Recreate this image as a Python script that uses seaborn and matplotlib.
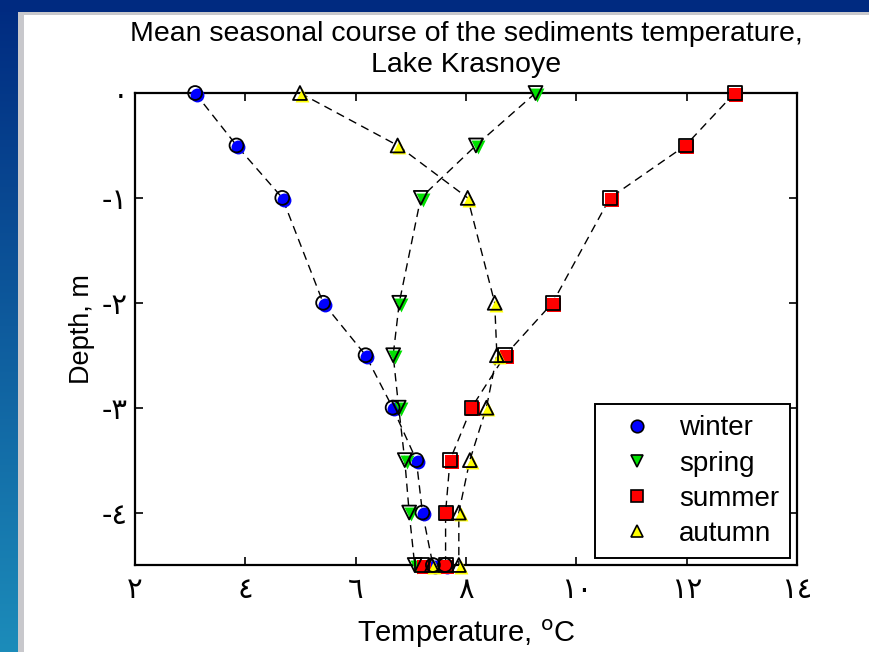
import numpy as np
import pandas as pd
import matplotlib
matplotlib.use("Agg")
import matplotlib.pyplot as plt
import matplotlib.transforms as mtransforms
from matplotlib.lines import Line2D
from matplotlib.patches import Rectangle
import seaborn as sns

# ---- data: depth (m) and mean temperature (degC) per season ----
depth = [0, -0.5, -1, -2, -2.5, -3, -3.5, -4, -4.5]
winter = [3.09, 3.84, 4.67, 5.41, 6.18, 6.67, 7.10, 7.21, 7.40]
spring = [9.26, 8.18, 7.18, 6.79, 6.68, 6.78, 6.89, 6.97, 7.07]
summer = [12.87, 11.98, 10.61, 9.57, 8.71, 8.10, 7.71, 7.63, 7.63]
autumn = [4.99, 6.76, 8.03, 8.52, 8.56, 8.37, 8.07, 7.87, 7.87]
# additional bottom readings at -4.5 m
extra_depth = -4.5
extra_temp = {"winter": 7.62, "summer": 7.20, "autumn": 7.38}

seasons = ["winter", "spring", "summer", "autumn"]
colors = {"winter": "#0000ff", "spring": "#00e000", "summer": "#ff0000", "autumn": "#ffff00"}
markers = {"winter": "o", "spring": "v", "summer": "s", "autumn": "^"}

xticks = [2, 4, 6, 8, 10, 12, 14]
xticklabels = ["٢", "٤", "٦", "٨", "١٠", "١٢", "١٤"]
yticks = [0, -1, -2, -3, -4]
yticklabels = ["٠", "-١", "-٢", "-٣", "-٤"]

rows = []
for name, vals in zip(seasons, [winter, spring, summer, autumn]):
    for i, (d, t) in enumerate(zip(depth, vals)):
        rows.append({"season": name, "depth": d, "temp": t, "order": i})
    if name in extra_temp:
        rows.append({"season": name, "depth": extra_depth, "temp": extra_temp[name], "order": len(depth)})
df = pd.DataFrame(rows)

sns.set_theme(style="white")
plt.rcParams["font.family"] = ["Liberation Sans", "DejaVu Sans"]
plt.rcParams["text.color"] = "black"
plt.rcParams["axes.labelcolor"] = "black"
plt.rcParams["xtick.color"] = "black"
plt.rcParams["ytick.color"] = "black"

fig = plt.figure(figsize=(8.69, 6.52), dpi=100)

# slide-style frame behind the chart
bg = fig.add_axes([0, 0, 1, 1], zorder=-10)
bg.set_xlim(0, 869)
bg.set_ylim(652, 0)
bg.axis("off")
top = np.array([0x00, 0x2a, 0x80]) / 255
bot = np.array([0x1c, 0x8c, 0xba]) / 255
tt = np.linspace(0, 1, 256)[:, None]
grad = (top[None, :] * (1 - tt) + bot[None, :] * tt)[:, None, :]
bg.imshow(grad, extent=(0, 18, 652, 0), aspect="auto", interpolation="bilinear")
bg.add_patch(Rectangle((0, 0), 869, 12, color="#002a80", lw=0))
bg.add_patch(Rectangle((18, 12), 851, 3, color="#c8c8cc", lw=0))
bg.add_patch(Rectangle((18, 12), 6, 640, color="#c8c8cc", lw=0))
bg.add_patch(Rectangle((24, 15), 845, 637, color="white", lw=0))

ax = fig.add_axes([135 / 869, 1 - 565 / 652, (797 - 135) / 869, (565 - 93) / 652])
ax.set_facecolor("none")

# dashed profiles
for name in seasons:
    sub = df[df.season == name].sort_values("order")
    sns.lineplot(data=sub, x="temp", y="depth", sort=False, estimator=None,
                 color="black", linestyle=(0, (6, 4)), linewidth=1.0, ax=ax, legend=False)

# coloured fills (slightly offset) and black outlines
shift = mtransforms.offset_copy(ax.transData, fig=fig, x=1.3, y=-1.3, units="points")
for name in seasons:
    sub = df[df.season == name]
    n0 = len(ax.collections)
    sns.scatterplot(data=sub, x="temp", y="depth", marker=markers[name], color=colors[name],
                    s=100, linewidth=0, ax=ax, legend=False, zorder=3)
    fill = ax.collections[n0]
    fill.set_offset_transform(shift)
    fill.set_clip_on(False)
    n1 = len(ax.collections)
    sns.scatterplot(data=sub, x="temp", y="depth", marker=markers[name], color="black",
                    s=100, linewidth=1.3, ax=ax, legend=False, zorder=4)
    ring = ax.collections[n1]
    ring.set_facecolor("none")
    ring.set_edgecolor("black")
    ring.set_clip_on(False)

ax.set_xlim(2, 14)
ax.set_ylim(-4.5, 0)
ax.set_xticks(xticks)
ax.set_xticklabels(xticklabels, fontsize=21, family=["DejaVu Sans"])
ax.set_yticks(yticks)
ax.set_yticklabels(yticklabels, fontsize=21, family=["DejaVu Sans"])
ax.tick_params(direction="in", length=6, width=1.2, bottom=True, left=True, top=True, right=True,
               color="black")
ax.tick_params(axis="x", pad=8)
ax.tick_params(axis="y", pad=5)
for sp in ax.spines.values():
    sp.set_visible(True)
    sp.set_color("black")
    sp.set_linewidth(1.6)

ax.set_xlabel("Temperature, $^{\\rm o}$C", fontsize=21, labelpad=10)
ax.set_ylabel("Depth, m", fontsize=19.5, labelpad=5)
ax.set_title("Mean seasonal course of the sediments temperature,\nLake Krasnoye",
             fontsize=20.5, pad=15, linespacing=1.27)

handles = [Line2D([], [], linestyle="none", marker=markers[n], markerfacecolor=colors[n],
                  markeredgecolor="black", markeredgewidth=1.2, markersize=9) for n in seasons]
leg = ax.legend(handles, seasons, loc="lower right", prop={"size": 20}, frameon=True,
                fancybox=False, edgecolor="black", framealpha=1, borderpad=0.4,
                handlelength=2.2, handletextpad=0.4, labelspacing=0.33, borderaxespad=0,
                bbox_to_anchor=((790 - 135) / 662, (565 - 558) / 472))
leg.get_frame().set_linewidth(1.4)

fig.savefig("out.png", dpi=100)
